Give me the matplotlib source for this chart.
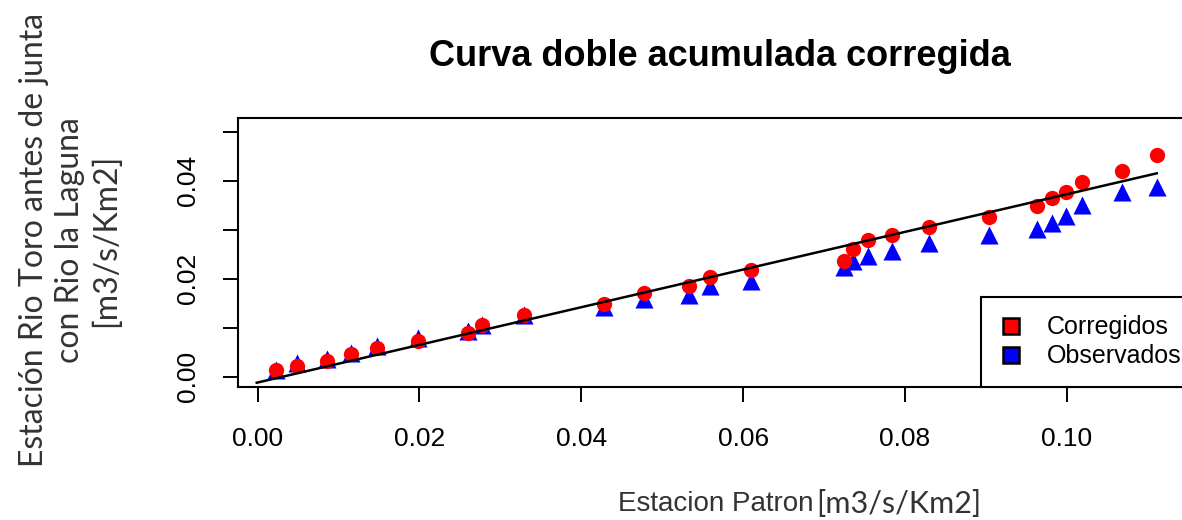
import matplotlib.pyplot as plt
from matplotlib.lines import Line2D

# Datos (x comun: estacion patron acumulada)
x_patron = [0.00229, 0.00492, 0.00855, 0.01155, 0.01480, 0.01980, 0.02595,
            0.02778, 0.03293, 0.04281, 0.04779, 0.05336, 0.05597, 0.06098,
            0.07251, 0.07354, 0.07547, 0.07844, 0.08301, 0.09039, 0.09628,
            0.09817, 0.09990, 0.10188, 0.10682, 0.11111]
y_corregidos = [0.00133, 0.00214, 0.00316, 0.00453, 0.00576, 0.00724, 0.00882,
                0.01051, 0.01265, 0.01480, 0.01698, 0.01847, 0.02031, 0.02184,
                0.02357, 0.02602, 0.02786, 0.02898, 0.03057, 0.03249, 0.03480,
                0.03643, 0.03765, 0.03976, 0.04200, 0.04514]
y_observados = [0.00143, 0.00276, 0.00364, 0.00490, 0.00616, 0.00780, 0.00939,
                0.01057, 0.01262, 0.01412, 0.01582, 0.01671, 0.01841, 0.01957,
                0.02229, 0.02351, 0.02453, 0.02555, 0.02724, 0.02896, 0.03018,
                0.03133, 0.03269, 0.03508, 0.03759, 0.03861]
# recta de ajuste (extremos)
recta_x = [-0.0001, 0.11111]
recta_y = [-0.00127, 0.04147]

xticks = [0.00, 0.02, 0.04, 0.06, 0.08, 0.10]
yticks = [0.00, 0.01, 0.02, 0.03, 0.04, 0.05]
ytick_labels = ['0.00', '', '0.02', '', '0.04', '']

arial = ['Liberation Sans', 'DejaVu Sans']
calibri = ['Lato', 'DejaVu Sans']

W, H = 1182, 520
fig = plt.figure(figsize=(W / 100, H / 100), dpi=100)
ax = fig.add_axes([238 / W, (H - 387) / H, (1202 - 238) / W, (387 - 118) / H])

ax.scatter(x_patron, y_observados, marker='^', s=13 ** 2, color='#0000FF',
           linewidths=0, zorder=2)
ax.scatter(x_patron, y_corregidos, marker='o', s=11 ** 2, color='#FF0000',
           linewidths=0, zorder=3)
ax.plot(recta_x, recta_y, color='black', lw=1.8, zorder=4)

ax.set_xlim(-0.00241, 0.1167)
ax.set_ylim(-0.00214, 0.05276)
ax.set_xticks(xticks)
ax.set_xticklabels(['%.2f' % v for v in xticks])
ax.set_yticks(yticks)
ax.set_yticklabels(ytick_labels, rotation=90, va='center')
ax.tick_params(axis='both', length=11, width=1.4, labelsize=19)
ax.tick_params(axis='x', pad=18)
ax.tick_params(axis='y', pad=16)
for lab in ax.get_xticklabels() + ax.get_yticklabels():
    lab.set_family(arial)
for sp in ax.spines.values():
    sp.set_linewidth(1.5)

# leyenda
handles = [Line2D([], [], marker='s', ls='', markersize=12, markerfacecolor='#FF0000',
                  markeredgecolor='black', markeredgewidth=1.8),
           Line2D([], [], marker='s', ls='', markersize=12, markerfacecolor='#0000FF',
                  markeredgecolor='black', markeredgewidth=1.8)]
leg = ax.legend(handles, ['Corregidos', 'Observados'], loc='lower left',
                bbox_to_anchor=(981 / W, (H - 387) / H), bbox_transform=fig.transFigure,
                borderaxespad=0, fancybox=False, framealpha=1, edgecolor='black',
                prop={'family': arial, 'size': 18}, borderpad=0.75, labelspacing=0.2,
                handlelength=0.9, handletextpad=1.0)
leg.get_frame().set_linewidth(1.5)
leg.set_zorder(10)

fig.text(720 / W, (H - 56) / H, 'Curva doble acumulada corregida', ha='center',
         va='center', fontsize=26, fontweight='bold', family=arial)
fig.text(813 / W, (H - 504) / H, 'Estacion Patron', ha='right', va='center',
         fontsize=20, family=arial, color='#333333')
fig.text(816 / W, (H - 504) / H, '[m3/s/Km2]', ha='left', va='center',
         fontsize=22, family=calibri, color='#333333')
fig.text(70 / W, (H - 240) / H, 'Estación Rio Toro antes de junta\ncon Rio la Laguna\n[m3/s/Km2]',
         rotation=90, ha='center', va='center', multialignment='center',
         fontsize=23, family=calibri, color='#333333', linespacing=1.25)

fig.savefig('out.png', dpi=100)
